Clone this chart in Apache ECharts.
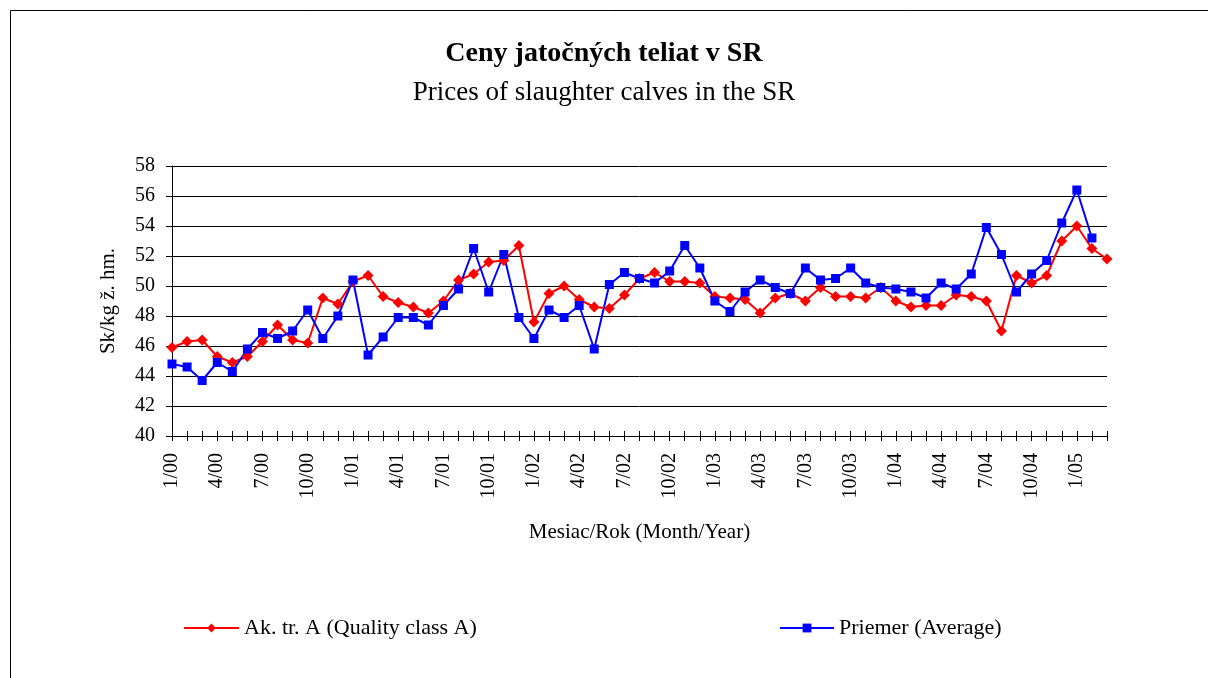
<!DOCTYPE html>
<html>
<head>
<meta charset="utf-8">
<script src="https://cdn.jsdelivr.net/npm/echarts@6/dist/echarts.min.js"></script>
<style>
  html, body { margin: 0; padding: 0; background: #fff; }
  #graphContainer { width: 1208px; height: 678px; }
</style>
</head>
<body>
<div id="graphContainer"></div>
<script>
var months = [
	'1/00','2/00','3/00','4/00','5/00','6/00','7/00','8/00','9/00','10/00','11/00','12/00',
	'1/01','2/01','3/01','4/01','5/01','6/01','7/01','8/01','9/01','10/01','11/01','12/01',
	'1/02','2/02','3/02','4/02','5/02','6/02','7/02','8/02','9/02','10/02','11/02','12/02',
	'1/03','2/03','3/03','4/03','5/03','6/03','7/03','8/03','9/03','10/03','11/03','12/03',
	'1/04','2/04','3/04','4/04','5/04','6/04','7/04','8/04','9/04','10/04','11/04','12/04',
	'1/05','2/05','3/05'
];

// Ak. tr. A (Quality class A)
var classA = [
	45.9, 46.3, 46.4, 45.3, 44.9, 45.3, 46.3, 47.4, 46.4, 46.2, 49.2, 48.8,
	50.3, 50.7, 49.3, 48.9, 48.6, 48.2, 49.0, 50.4, 50.8, 51.6, 51.7, 52.7,
	47.6, 49.5, 50.0, 49.1, 48.6, 48.5, 49.4, 50.5, 50.9, 50.3, 50.3, 50.2,
	49.3, 49.2, 49.1, 48.2, 49.2, 49.5, 49.0, 49.9, 49.3, 49.3, 49.2, 49.9,
	49.0, 48.6, 48.7, 48.7, 49.4, 49.3, 49.0, 47.0, 50.7, 50.2, 50.7, 53.0,
	54.0, 52.5, 51.8
];

// Priemer (Average)
var average = [
	44.8, 44.6, 43.7, 44.9, 44.3, 45.8, 46.9, 46.5, 47.0, 48.4, 46.5, 48.0,
	50.4, 45.4, 46.6, 47.9, 47.9, 47.4, 48.7, 49.8, 52.5, 49.6, 52.1, 47.9,
	46.5, 48.4, 47.9, 48.7, 45.8, 50.1, 50.9, 50.5, 50.2, 51.0, 52.7, 51.2,
	49.0, 48.3, 49.6, 50.4, 49.9, 49.5, 51.2, 50.4, 50.5, 51.2, 50.2, 49.9,
	49.8, 49.6, 49.2, 50.2, 49.8, 50.8, 53.9, 52.1, 49.6, 50.8, 51.7, 54.2,
	56.4, 53.2
];

var serif = '"Liberation Serif", "DejaVu Serif", serif';

var dom = document.getElementById('graphContainer');
var myEChart = echarts.init(dom, null, { renderer: 'canvas' });

var option = {
	animation: false,
	backgroundColor: '#fff',
	textStyle: { fontFamily: serif, color: '#000' },
	graphic: [{
		type: 'rect',
		shape: { x: 10.5, y: 10.5, width: 1210, height: 700 },
		style: { fill: 'none', stroke: '#000', lineWidth: 1 },
		silent: true
	}],
	title: [{
		text: 'Ceny jatočných teliat v SR',
		left: 'center',
		top: 35,
		textStyle: { fontFamily: serif, fontSize: 28, fontWeight: 'bold', color: '#000' }
	}, {
		text: 'Prices of slaughter calves in the SR',
		left: 'center',
		top: 74,
		textStyle: { fontFamily: serif, fontSize: 27, fontWeight: 'normal', color: '#000' }
	}],
	grid: {
		left: 172,
		right: 101,
		top: 166,
		bottom: 242
	},
	legend: [{
		data: ['Ak. tr. A (Quality class A)'],
		left: 178,
		top: 612,
		itemWidth: 55,
		itemHeight: 11,
		itemGap: 7,
		textStyle: { fontFamily: serif, fontSize: 22, color: '#000' }
	}, {
		data: ['Priemer (Average)'],
		left: 774,
		top: 612,
		itemWidth: 54,
		itemHeight: 11,
		itemGap: 5,
		textStyle: { fontFamily: serif, fontSize: 22, color: '#000' }
	}],
	xAxis: [{
		type: 'category',
		data: months,
		boundaryGap: false,
		name: 'Mesiac/Rok (Month/Year)',
		nameLocation: 'middle',
		nameGap: 86,
		nameTextStyle: { fontFamily: serif, fontSize: 21, color: '#000' },
		axisLine: { lineStyle: { color: '#000', width: 1 } },
		axisTick: { interval: 0, length: 5, inside: false, lineStyle: { color: '#000' } },
		axisLabel: {
			interval: 2,
			rotate: 90,
			margin: 17,
			fontFamily: serif,
			fontSize: 20,
			color: '#000'
		},
		splitLine: { show: false }
	}, {
		type: 'category',
		data: months,
		boundaryGap: false,
		position: 'bottom',
		axisLine: { show: false },
		axisTick: { interval: 0, length: 5, inside: true, lineStyle: { color: '#000' } },
		axisLabel: { show: false },
		splitLine: { show: false }
	}],
	yAxis: [{
		type: 'value',
		min: 40,
		max: 58,
		interval: 2,
		name: 'Sk/kg ž. hm.',
		nameLocation: 'middle',
		nameGap: 53,
		nameTextStyle: { fontFamily: serif, fontSize: 21, color: '#000' },
		axisLine: { show: true, lineStyle: { color: '#000', width: 1 } },
		axisTick: { show: true, length: 6, lineStyle: { color: '#000' } },
		axisLabel: { margin: 17, fontFamily: serif, fontSize: 20, color: '#000' },
		splitLine: { show: true, lineStyle: { color: '#000', width: 1 } }
	}, {
		type: 'value',
		min: 40,
		max: 58,
		interval: 2,
		position: 'left',
		axisLine: { show: false },
		axisTick: { show: true, inside: true, length: 6, lineStyle: { color: '#000' } },
		axisLabel: { show: false },
		splitLine: { show: false }
	}],
	series: [{
		name: 'Ak. tr. A (Quality class A)',
		type: 'line',
		data: classA,
		symbol: 'diamond',
		symbolSize: 11,
		showAllSymbol: true,
		itemStyle: { color: '#ff0000' },
		lineStyle: { color: '#ff0000', width: 2 }
	}, {
		name: 'Priemer (Average)',
		type: 'line',
		data: average,
		symbol: 'rect',
		symbolSize: 9,
		showAllSymbol: true,
		itemStyle: { color: '#0000ff' },
		lineStyle: { color: '#0000ff', width: 2 }
	}]
};

myEChart.setOption(option);
window.addEventListener('resize', myEChart.resize);
</script>
</body>
</html>
